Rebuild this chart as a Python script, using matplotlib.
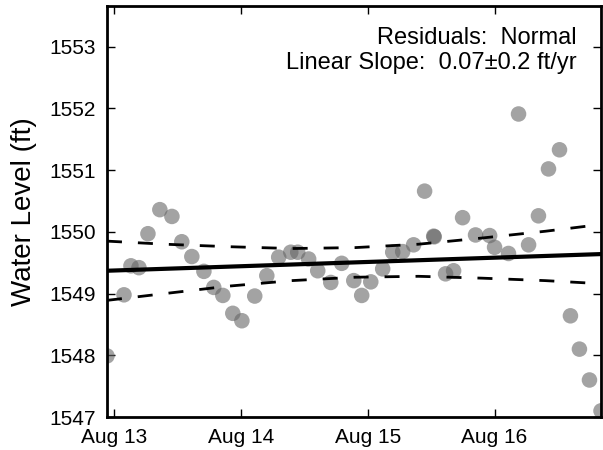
import matplotlib
matplotlib.use('Agg')
import matplotlib.pyplot as plt
import matplotlib.dates as mdates
import pandas as pd
from matplotlib.ticker import FormatStrFormatter

plt.rcParams['font.family'] = ['Liberation Sans', 'DejaVu Sans']

# === Datos ===
fechas = [
    "2014-08-12 22:41", "2014-08-13 01:54", "2014-08-13 03:13", "2014-08-13 04:44",
    "2014-08-13 06:26", "2014-08-13 08:41", "2014-08-13 10:58", "2014-08-13 12:50",
    "2014-08-13 14:44", "2014-08-13 17:01", "2014-08-13 18:53", "2014-08-13 20:36",
    "2014-08-13 22:29", "2014-08-14 00:12", "2014-08-14 02:38", "2014-08-14 04:55",
    "2014-08-14 07:10", "2014-08-14 09:27", "2014-08-14 10:46", "2014-08-14 12:50",
    "2014-08-14 14:33", "2014-08-14 17:01", "2014-08-14 19:05", "2014-08-14 21:22",
    "2014-08-14 22:52", "2014-08-15 00:35", "2014-08-15 02:50", "2014-08-15 04:44",
    "2014-08-15 06:37", "2014-08-15 08:41", "2014-08-15 10:46", "2014-08-15 12:29",
    "2014-08-15 12:35", "2014-08-15 14:44", "2014-08-15 16:15", "2014-08-15 17:57",
    "2014-08-15 20:24", "2014-08-15 23:04", "2014-08-16 00:00", "2014-08-16 02:38",
    "2014-08-16 04:32", "2014-08-16 06:26", "2014-08-16 08:18", "2014-08-16 10:12",
    "2014-08-16 12:17", "2014-08-16 14:21", "2014-08-16 16:03", "2014-08-16 17:57",
    "2014-08-16 20:08",
]
nivel = [
    1547.99, 1548.98, 1549.45, 1549.42, 1549.97, 1550.36, 1550.25, 1549.84,
    1549.60, 1549.36, 1549.10, 1548.97, 1548.68, 1548.56, 1548.96, 1549.29,
    1549.59, 1549.67, 1549.67, 1549.56, 1549.37, 1549.18, 1549.49, 1549.21,
    1548.97, 1549.19, 1549.40, 1549.67, 1549.68, 1549.79, 1550.66, 1549.93,
    1549.92, 1549.32, 1549.37, 1550.23, 1549.95, 1549.94, 1549.75, 1549.65,
    1551.91, 1549.79, 1550.26, 1551.02, 1551.33, 1548.64, 1548.10, 1547.60,
    1547.10,
]

# Recta de ajuste (extremos) y banda de confianza
ajuste_fechas = ["2014-08-12 22:41", "2014-08-16 20:08"]
ajuste_nivel = [1549.37, 1549.64]

banda_fechas = [
    "2014-08-12 22:41", "2014-08-13 09:36", "2014-08-13 21:36", "2014-08-14 09:36",
    "2014-08-14 21:36", "2014-08-15 09:36", "2014-08-15 21:36", "2014-08-16 09:36",
    "2014-08-16 20:08",
]
banda_sup = [1549.85, 1549.80, 1549.76, 1549.73, 1549.745, 1549.80, 1549.90, 1550.01, 1550.12]
banda_inf = [1548.89, 1549.00, 1549.12, 1549.21, 1549.265, 1549.28, 1549.25, 1549.21, 1549.16]

texto = "Residuals:  Normal\nLinear Slope:  0.07\u00b10.2 ft/yr"

t = pd.to_datetime(fechas)
t_ajuste = pd.to_datetime(ajuste_fechas)
t_banda = pd.to_datetime(banda_fechas)

# === Figura ===
fig = plt.figure(figsize=(6.03, 4.5), dpi=100)
ax = fig.add_axes([0.1774, 0.0733, 0.8193, 0.9134])

ax.scatter(t, nivel, s=125, color='#666666', alpha=0.6, edgecolors='none', zorder=2)
ax.plot(t_ajuste, ajuste_nivel, color='black', lw=3, zorder=3)
ax.plot(t_banda, banda_sup, color='black', lw=2, linestyle=(0, (5.4, 5.75)), zorder=3)
ax.plot(t_banda, banda_inf, color='black', lw=2, linestyle=(0, (5.4, 5.75)), zorder=3)

ax.set_xlim(t.min(), t.max())
ax.set_ylim(1547, 1553.66)

ax.xaxis.set_major_locator(mdates.DayLocator())
ax.xaxis.set_major_formatter(mdates.DateFormatter('%b %d'))
ax.set_yticks(range(1547, 1554))
ax.yaxis.set_major_formatter(FormatStrFormatter('%d'))

ax.tick_params(direction='in', length=6, width=1, top=True, right=True,
               pad=8, labelsize=15)
for sp in ax.spines.values():
    sp.set_linewidth(2)

ax.set_ylabel("Water Level (ft)", fontsize=20, labelpad=9)

ax.text(0.95, 0.95, texto, transform=ax.transAxes, ha='right', va='top',
        fontsize=17, multialignment='right')

fig.savefig("out.png", dpi=100)
